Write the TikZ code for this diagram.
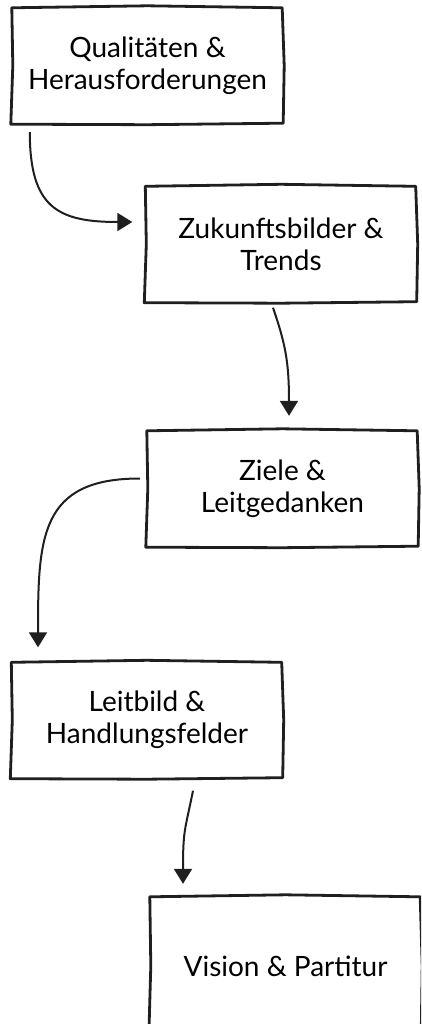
\documentclass[tikz,border=0pt]{standalone}
\usepackage{fontspec}
\setmainfont{Lato}
\usepackage{tikz}
\usetikzlibrary{calc,arrows.meta}

\tikzset{
  stage/.style={minimum width=271pt, minimum height=117pt, inner sep=0pt,
                align=center, font=\fontsize{28}{32}\selectfont},
  sketch/.style={line width=2.8pt, line join=round, line cap=round, color=black!88},
  flow/.style={line width=2pt, color=black!88,
               -{Triangle[width=18pt,length=15pt]}}
}
\newcommand{\sketchbox}[1]{%
  \draw[sketch] ($(#1.north west)+(0,1)$) -- ($(#1.north)+(0,-1)$) -- ($(#1.north east)+(-1,1)$)
    -- ($(#1.east)+(1,0)$) -- ($(#1.south east)+(0,-1)$) -- ($(#1.south)+(0,0.5)$)
    -- ($(#1.south west)+(-1,0)$) -- ($(#1.west)+(1,0)$) -- cycle;}

\begin{document}
\begin{tikzpicture}[x=1pt, y=-1pt]
  \clip (0,0) rectangle (421,1024);
  \node[stage] (qual) at (147.5,65.5) {Qualitäten \&\\Herausforderungen};
  \node[stage] (zukunft) at (281,244) {Zukunftsbilder \&\\Trends};
  \node[stage] (ziele) at (282.5,488.5) {Ziele \&\\Leitgedanken};
  \node[stage] (leitbild) at (147,720) {Leitbild \&\\Handlungsfelder};
  \node[stage, minimum height=140pt, text depth=0pt] (vision) at (285.5,966) {};
  \node[font=\fontsize{28}{32}\selectfont] (visiontext) at (285.5,966) {Vision \& Partitur};
  \foreach \n in {qual,zukunft,ziele,leitbild,vision} \sketchbox{\n};
  % connectors
  \draw[flow] ($(qual.south west)+(18,8)$) .. controls +(0,75) and +(-75,0) .. ($(zukunft.west)+(-13,-22)$);
  \draw[flow] ($(zukunft.south)+(-8,5)$) .. controls +(12,35) and +(0,-55) .. ($(ziele.north)+(6.5,-14)$);
  \draw[flow] ($(ziele.west)+(-7,-10)$) .. controls +(-100,0) and +(0,-110) .. ($(leitbild.north)+(-109,-14)$);
  \draw[flow] ($(leitbild.south)+(46,12)$) .. controls +(-8,40) and +(0,-55) .. ($(vision.north)+(-102.5,-12)$);
\end{tikzpicture}
\end{document}
